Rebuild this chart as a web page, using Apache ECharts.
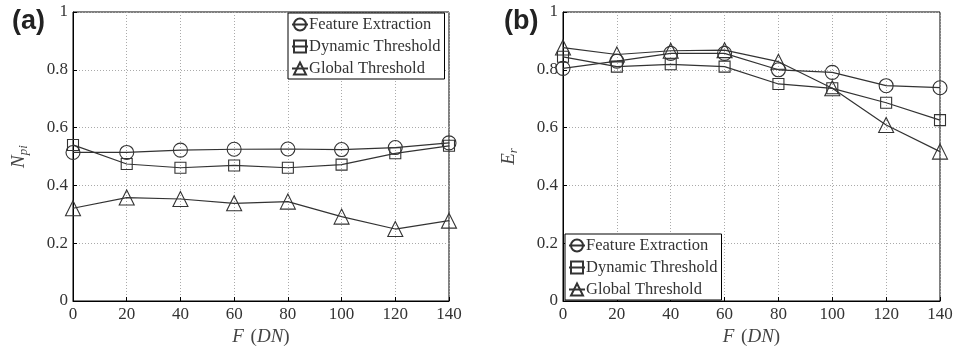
<!DOCTYPE html>
<html><head><meta charset="utf-8">
<script src="https://cdn.jsdelivr.net/npm/echarts@6/dist/echarts.min.js"></script>
<style>html,body{margin:0;padding:0;background:#fff}#c{width:953px;height:349px}</style>
</head><body><div id="c"></div>
<script>
const xValues = [0, 20, 40, 60, 80, 100, 120, 140];
const seriesNames = ['Feature Extraction', 'Dynamic Threshold', 'Global Threshold'];
const npiFeature = [0.514, 0.514, 0.522, 0.525, 0.526, 0.524, 0.531, 0.547];
const npiDynamic = [0.540, 0.474, 0.461, 0.469, 0.461, 0.472, 0.511, 0.537];
const npiGlobal  = [0.321, 0.358, 0.353, 0.338, 0.344, 0.292, 0.249, 0.278];
const erFeature = [0.805, 0.830, 0.857, 0.857, 0.800, 0.791, 0.745, 0.738];
const erDynamic = [0.845, 0.811, 0.819, 0.811, 0.751, 0.736, 0.686, 0.626];
const erGlobal  = [0.877, 0.853, 0.866, 0.868, 0.828, 0.736, 0.609, 0.517];
const xTicks = [0, 140, 20];
const yTicks = [0, 1, 0.2];

const serif = '"Liberation Serif", "DejaVu Serif", serif';
const ink = '#333';
const symbols = ['circle', 'rect', 'triangle'];
const symSizes = [14, 11, 15];

function pairs(arr) { return xValues.map((x, i) => [x, arr[i]]); }

function mkSeries(data, idx, gi) {
  return {
    name: seriesNames[idx], type: 'line', xAxisIndex: gi, yAxisIndex: gi,
    data: pairs(data), symbol: symbols[idx], symbolSize: symSizes[idx],
    lineStyle: { color: ink, width: 1.2 },
    itemStyle: { color: 'rgba(0,0,0,0)', borderColor: ink, borderWidth: 1.1 },
    emphasis: { disabled: true }, animation: false, z: 3
  };
}

function xAxis(gi) {
  return {
    type: 'value', gridIndex: gi, min: xTicks[0], max: xTicks[1], interval: xTicks[2],
    name: '{i|F}  {n|(}{i|DN}{n|)}', nameLocation: 'middle', nameGap: 26,
    nameTextStyle: { rich: { i: { fontFamily: serif, fontStyle: 'italic', fontSize: 19, color: '#444' }, n: { fontFamily: serif, fontSize: 19, color: '#444' } } },
    axisLine: { show: true, lineStyle: { color: '#000', width: 1 } },
    axisTick: { show: true, inside: true, length: 4, lineStyle: { color: '#000' } },
    axisLabel: { fontFamily: serif, fontSize: 17, color: '#333', margin: 5 },
    splitLine: { show: true, lineStyle: { color: '#aaa', type: [1, 2], width: 1 } }
  };
}
function yAxis(gi, nameRich) {
  return {
    type: 'value', gridIndex: gi, min: yTicks[0], max: yTicks[1], interval: yTicks[2],
    name: nameRich, nameLocation: 'middle', nameGap: 43, nameRotate: 90,
    nameTextStyle: { rich: {
      i: { fontFamily: serif, fontStyle: 'italic', fontSize: 19, color: '#444' },
      s: { fontFamily: serif, fontStyle: 'italic', fontSize: 13, color: '#444', padding: [9, 0, 0, 0] }
    } },
    axisLine: { show: true, lineStyle: { color: '#000', width: 1 } },
    axisTick: { show: true, inside: true, length: 4, lineStyle: { color: '#000' } },
    axisLabel: { fontFamily: serif, fontSize: 17, color: '#333', margin: 5 },
    splitLine: { show: true, lineStyle: { color: '#aaa', type: [1, 2], width: 1 } }
  };
}
function legend(left, top) {
  return {
    left: left, top: top, orient: 'vertical', data: seriesNames,
    backgroundColor: '#fff', borderColor: '#000', borderWidth: 1, borderRadius: 0,
    padding: [3, 4, 2, 3], itemGap: 5, itemWidth: 16, itemHeight: 15,
    selectedMode: false,
    textStyle: { fontFamily: serif, fontSize: 16.5, color: '#333', padding: [0, 0, 0, -4] }
  };
}

const chart = echarts.init(document.getElementById('c'), null, { renderer: 'canvas' });
chart.setOption({
  backgroundColor: '#fff',
  animation: false,
  title: [
    { text: '(a)', left: 7, top: 3, textStyle: { fontFamily: '"Liberation Sans", Arial, sans-serif', fontWeight: 'bold', fontSize: 27, color: '#222' } },
    { text: '(b)', left: 499, top: 3, textStyle: { fontFamily: '"Liberation Sans", Arial, sans-serif', fontWeight: 'bold', fontSize: 27, color: '#222' } }
  ],
  grid: [
    { left: 73, right: 504, top: 12, bottom: 48, containLabel: false, outerBoundsMode: 'none', show: true, borderColor: '#000', borderWidth: 1, backgroundColor: 'transparent' },
    { left: 563, right: 13, top: 12, bottom: 48, containLabel: false, outerBoundsMode: 'none', show: true, borderColor: '#000', borderWidth: 1, backgroundColor: 'transparent' }
  ],
  xAxis: [xAxis(0), xAxis(1)],
  yAxis: [yAxis(0, '{i|N}{s|pi}'), yAxis(1, '{i|E}{s|r}')],
  legend: [legend(288, 13), legend(565, 234)],
  series: [
    mkSeries(npiFeature, 0, 0), mkSeries(npiDynamic, 1, 0), mkSeries(npiGlobal, 2, 0),
    mkSeries(erFeature, 0, 1), mkSeries(erDynamic, 1, 1), mkSeries(erGlobal, 2, 1)
  ]
});
</script></body></html>
